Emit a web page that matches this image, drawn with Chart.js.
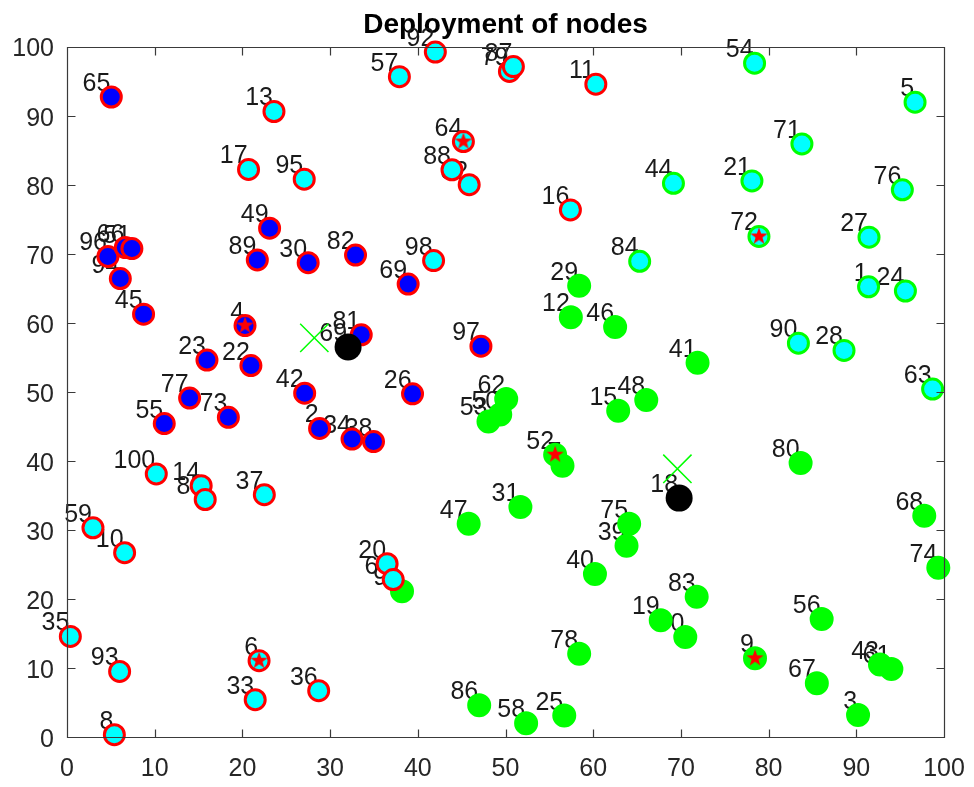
<!DOCTYPE html>
<html>
<head>
<meta charset="utf-8">
<title>Deployment of nodes</title>
<script src="https://cdn.jsdelivr.net/npm/chart.js@4.4.0/dist/chart.umd.min.js"></script>
<style>
  html, body { margin: 0; padding: 0; background: #ffffff; }
  #wrap { width: 974px; height: 787px; }
</style>
</head>
<body>
<div id="wrap"><canvas id="nodeChart" width="974" height="787"></canvas></div>
<script>
// --- Node data ---

// red edge, blue fill
const blueIds = [65, 49, 89, 30, 96, 66, 51, 94, 45, 4, 23, 22, 42, 77, 55, 73, 2, 82, 69, 81, 97, 26, 34, 38];
const blueX = [5.05, 23.1, 21.7, 27.5, 4.67, 6.65, 7.4, 6.08, 8.73, 20.3, 15.96, 20.97, 27.1, 13.98, 11.09, 18.4, 28.8, 32.9, 38.9, 33.55, 47.2, 39.4, 32.5, 34.95];
const blueY = [92.7, 73.7, 69.1, 68.7, 69.6, 70.9, 70.75, 66.4, 61.25, 59.6, 54.6, 53.8, 49.8, 49.1, 45.4, 46.3, 44.7, 69.8, 65.6, 58.25, 56.6, 49.7, 43.15, 42.8];

// red edge, cyan fill
const cyanRedIds = [13, 17, 95, 57, 92, 79, 87, 11, 64, 88, 32, 16, 98, 100, 14, 85, 37, 59, 10, 20, 60, 35, 93, 8, 6, 33, 36];
const cyanRedX = [23.6, 20.7, 27.05, 37.9, 42.0, 50.45, 50.9, 60.3, 45.2, 43.9, 45.86, 57.4, 41.8, 10.18, 15.3, 15.76, 22.5, 2.96, 6.57, 36.5, 37.2, 0.38, 6.0, 5.4, 21.9, 21.46, 28.7];
const cyanRedY = [90.6, 82.2, 80.8, 95.65, 99.2, 96.4, 97.1, 94.55, 86.25, 82.15, 80.0, 76.35, 69.0, 38.1, 36.4, 34.4, 35.1, 30.3, 26.7, 25.1, 22.8, 14.57, 9.5, 0.33, 11.05, 5.4, 6.7];

// green edge, cyan fill
const cyanGreenIds = [54, 5, 71, 44, 21, 76, 72, 27, 1, 24, 90, 28, 63, 84];
const cyanGreenX = [78.4, 96.7, 83.8, 69.15, 78.1, 95.25, 78.9, 91.45, 91.4, 95.6, 83.4, 88.6, 98.7, 65.3];
const cyanGreenY = [97.6, 91.95, 85.9, 80.2, 80.55, 79.25, 72.5, 72.4, 65.2, 64.6, 57.05, 56.0, 50.4, 68.9];

// solid green
const greenIds = [29, 12, 46, 41, 48, 15, 62, 50, 53, 52, 7, 31, 47, 75, 39, 40, 80, 68, 74, 83, 19, 70, 9, 56, 67, 3, 43, 61, 78, 86, 58, 25, 99];
const greenX = [58.4, 57.45, 62.5, 71.9, 66.05, 62.85, 50.08, 49.4, 48.06, 55.66, 56.5, 51.7, 45.8, 64.1, 63.8, 60.2, 83.65, 97.75, 99.35, 71.8, 67.7, 70.5, 78.45, 86.05, 85.5, 90.2, 92.7, 94.0, 58.4, 47.0, 52.35, 56.7, 38.2];
const greenY = [65.35, 60.8, 59.4, 54.2, 48.8, 47.25, 48.95, 46.7, 45.7, 40.9, 39.3, 33.3, 30.9, 30.9, 27.7, 23.6, 39.7, 32.05, 24.5, 20.3, 16.9, 14.5, 11.4, 17.1, 7.8, 3.2, 10.5, 9.85, 12.06, 4.6, 2.0, 3.1, 21.1];

// black nodes
const blackIds = [69, 18];
const blackX = [32.05, 69.8];
const blackY = [56.5, 34.6];

// green crosses
const crossX = [28.2, 69.6];
const crossY = [57.8, 38.85];

// nodes marked with a red star
const headIds = [4, 64, 6, 52, 72, 9];

const axisTicks = [0, 10, 20, 30, 40, 50, 60, 70, 80, 90, 100];

const FONT = "'Liberation Sans', Arial, sans-serif";

// --- Helpers ---
function pts(xs, ys) {
    return xs.map((x, i) => ({ x: x, y: ys[i] }));
}

function headPoints() {
    const groups = [[blueIds, blueX, blueY], [cyanRedIds, cyanRedX, cyanRedY],
                    [cyanGreenIds, cyanGreenX, cyanGreenY], [greenIds, greenX, greenY]];
    const out = [];
    headIds.forEach(id => {
        for (const [ids, xs, ys] of groups) {
            const k = ids.indexOf(id);
            if (k >= 0) { out.push({ x: xs[k], y: ys[k] }); break; }
        }
    });
    return out;
}

function makeStar(r) {
    const c = document.createElement('canvas');
    const size = Math.ceil(r * 2) + 2;
    c.width = size; c.height = size;
    const g = c.getContext('2d');
    g.beginPath();
    for (let k = 0; k < 10; k++) {
        const rad = k % 2 === 0 ? r : r * 0.4;
        const a = -Math.PI / 2 + k * Math.PI / 5;
        const px = size / 2 + rad * Math.cos(a);
        const py = size / 2 + rad * Math.sin(a);
        if (k === 0) g.moveTo(px, py); else g.lineTo(px, py);
    }
    g.closePath();
    g.fillStyle = '#ff0000';
    g.fill();
    return c;
}

// --- Plugins: node numbers under the markers, boxed axes with inward ticks ---
const nodeLabels = {
    id: 'nodeLabels',
    beforeDatasetsDraw(chart) {
        const ctx = chart.ctx;
        ctx.save();
        ctx.font = '25px ' + FONT;
        ctx.fillStyle = '#1a1a1a';
        ctx.textAlign = 'right';
        ctx.textBaseline = 'alphabetic';
        chart.data.datasets.forEach((ds, i) => {
            if (!ds.ids) return;
            chart.getDatasetMeta(i).data.forEach((pt, j) => {
                ctx.fillText(String(ds.ids[j]), pt.x - 1, pt.y - 6);
            });
        });
        ctx.restore();
    }
};

const axesBox = {
    id: 'axesBox',
    afterDraw(chart) {
        const { ctx, chartArea: a, scales } = chart;
        const L = Math.round(a.left) + 0.5, R = Math.round(a.right) + 0.5;
        const T = Math.round(a.top) + 0.5, B = Math.round(a.bottom) + 0.5;
        ctx.save();
        ctx.strokeStyle = '#3a3a3a';
        ctx.lineWidth = 1.2;
        ctx.beginPath();
        ctx.rect(L, T, R - L, B - T);
        axisTicks.forEach(v => {
            const px = Math.round(scales.x.getPixelForValue(v)) + 0.5;
            ctx.moveTo(px, B); ctx.lineTo(px, B - 8);
            ctx.moveTo(px, T); ctx.lineTo(px, T + 8);
            const py = Math.round(scales.y.getPixelForValue(v)) + 0.5;
            ctx.moveTo(L, py); ctx.lineTo(L + 8, py);
            ctx.moveTo(R, py); ctx.lineTo(R - 8, py);
        });
        ctx.stroke();
        ctx.restore();
    }
};

// --- Chart ---
const ctx = document.getElementById('nodeChart').getContext('2d');

new Chart(ctx, {
    type: 'scatter',
    data: {
        datasets: [
            {
                label: 'cross', data: pts(crossX, crossY), order: 1,
                pointStyle: 'crossRot', pointRadius: 20, borderColor: '#00ff00',
                borderWidth: 1.5, backgroundColor: '#00ff00'
            },
            {
                label: 'heads', data: headPoints(), order: 2,
                pointStyle: makeStar(9), pointRadius: 9
            },
            {
                label: 'black', data: pts(blackX, blackY), ids: blackIds, order: 3,
                pointRadius: 13.5, backgroundColor: '#000000', borderWidth: 0
            },
            {
                label: 'blue', data: pts(blueX, blueY), ids: blueIds, order: 4,
                pointRadius: 10, backgroundColor: '#0000ff', borderColor: '#ff0000', borderWidth: 3
            },
            {
                label: 'cyanRed', data: pts(cyanRedX, cyanRedY), ids: cyanRedIds, order: 5,
                pointRadius: 10, backgroundColor: '#00ffff', borderColor: '#ff0000', borderWidth: 3
            },
            {
                label: 'cyanGreen', data: pts(cyanGreenX, cyanGreenY), ids: cyanGreenIds, order: 6,
                pointRadius: 10, backgroundColor: '#00ffff', borderColor: '#00ff00', borderWidth: 3
            },
            {
                label: 'green', data: pts(greenX, greenY), ids: greenIds, order: 7,
                pointRadius: 10.5, backgroundColor: '#00ff00', borderColor: '#00ff00', borderWidth: 3
            }
        ].map(ds => Object.assign({ clip: false, showLine: false }, ds))
    },
    options: {
        responsive: false,
        animation: false,
        events: [],
        layout: { padding: { left: 0, right: 30, top: 0, bottom: 0 } },
        plugins: {
            legend: { display: false },
            tooltip: { enabled: false },
            title: {
                display: true,
                fullSize: false,
                text: 'Deployment of nodes',
                color: '#000000',
                font: { family: FONT, size: 28, weight: 'bold' },
                padding: { top: 8, bottom: 5 }
            }
        },
        scales: {
            x: {
                type: 'linear', min: 0, max: 100,
                grid: { display: false, drawTicks: false }, border: { display: false },
                ticks: {
                    stepSize: 10, autoSkip: false, maxRotation: 0, padding: 17,
                    color: '#262626', font: { family: FONT, size: 25 }
                },
                afterFit(s) { s.height = 50; s.paddingLeft = 0; s.paddingRight = 0; }
            },
            y: {
                type: 'linear', min: 0, max: 100,
                grid: { display: false, drawTicks: false }, border: { display: false },
                ticks: {
                    stepSize: 10, autoSkip: false, padding: 13, labelOffset: 3,
                    color: '#262626', font: { family: FONT, size: 25 }
                },
                afterFit(s) { s.width = 67; s.paddingTop = 0; s.paddingBottom = 0; }
            }
        }
    },
    plugins: [nodeLabels, axesBox]
});
</script>
</body>
</html>
